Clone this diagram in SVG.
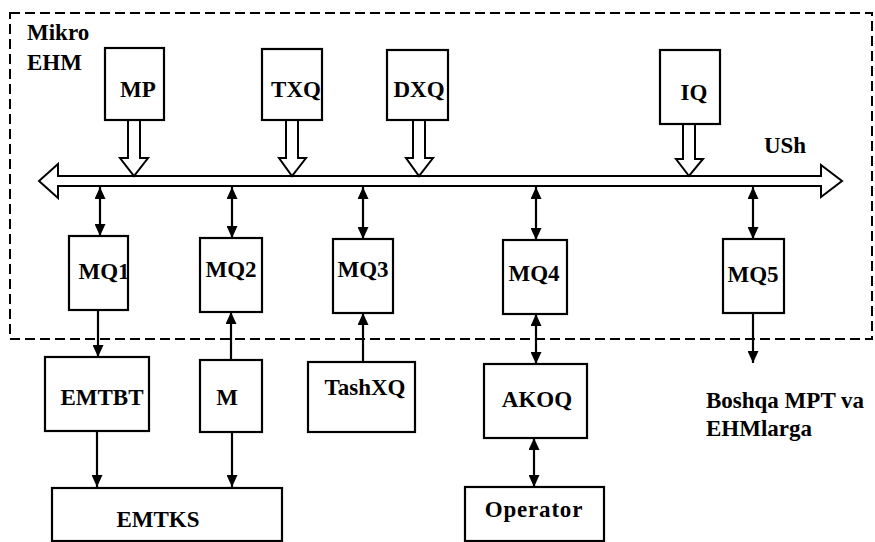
<svg xmlns="http://www.w3.org/2000/svg" width="875" height="542" viewBox="0 0 875 542">
<style>
  .bg { fill: #ffffff; }
  .box { fill: #ffffff; stroke: #000000; stroke-width: 2.2; }
  .frame { fill: none; stroke: #000000; stroke-width: 2; stroke-dasharray: 10 5; }
  .lbl { font-family: 'Liberation Serif', 'DejaVu Serif', serif; font-weight: bold; font-size: 23px; fill: #000000; }
  .c { text-anchor: middle; }
  .wire { stroke: #000000; stroke-width: 2.2; fill: none; }
  .hollow { fill: #ffffff; stroke: #000000; stroke-width: 2; stroke-linejoin: miter; }
</style>
<defs>
  <marker id="ah" viewBox="0 0 12 11" refX="12" refY="5.5" markerWidth="12" markerHeight="11" markerUnits="userSpaceOnUse" orient="auto-start-reverse">
    <path d="M0,0 L12,5.5 L0,11 z" fill="#000000"/>
  </marker>
</defs>
<rect class="bg" x="0" y="0" width="875" height="542"/>

<g font-family="Liberation Serif, DejaVu Serif, serif">
<g id="mikro-ehm">
  <rect class="frame" x="10" y="13" width="862" height="326"/>
  <text class="lbl" x="27" y="40">Mikro</text>
  <text class="lbl" x="27" y="70">EHM</text>
</g>

<g id="USh">
  <polygon class="hollow" points="39,181 58,164 58,176 821,176 821,165 842,181 821,197 821,186 58,186 58,198"/>
  <text class="lbl c" x="785" y="153">USh</text>
</g>

<g id="connectors">
  <polygon class="hollow" points="128,120 128,158 120,158 134,176 148,158 140,158 140,120"/>
  <polygon class="hollow" points="286,120 286,158 279,158 292,176 306,158 298,158 298,120"/>
  <polygon class="hollow" points="413,120 413,158 406,158 419,176 433,158 425,158 425,120"/>
  <polygon class="hollow" points="683,124 683,159 676,159 689,176 703,159 695,159 695,124"/>
  <line class="wire" x1="100" y1="187" x2="100" y2="236" marker-start="url(#ah)" marker-end="url(#ah)"/>
  <line class="wire" x1="232" y1="187" x2="232" y2="238" marker-start="url(#ah)" marker-end="url(#ah)"/>
  <line class="wire" x1="363" y1="187" x2="363" y2="239" marker-start="url(#ah)" marker-end="url(#ah)"/>
  <line class="wire" x1="536" y1="187" x2="536" y2="240" marker-start="url(#ah)" marker-end="url(#ah)"/>
  <line class="wire" x1="753" y1="187" x2="753" y2="239" marker-start="url(#ah)" marker-end="url(#ah)"/>
  <line class="wire" x1="98" y1="310" x2="98" y2="357" marker-end="url(#ah)"/>
  <line class="wire" x1="231" y1="360" x2="231" y2="312" marker-end="url(#ah)"/>
  <line class="wire" x1="363" y1="362" x2="363" y2="313" marker-end="url(#ah)"/>
  <line class="wire" x1="536" y1="314" x2="536" y2="364" marker-start="url(#ah)" marker-end="url(#ah)"/>
  <line class="wire" x1="753" y1="313" x2="753" y2="363" marker-end="url(#ah)"/>
  <line class="wire" x1="97" y1="431" x2="97" y2="487" marker-end="url(#ah)"/>
  <line class="wire" x1="232" y1="432" x2="232" y2="487" marker-end="url(#ah)"/>
  <line class="wire" x1="534" y1="438" x2="534" y2="487" marker-start="url(#ah)" marker-end="url(#ah)"/>
</g>

<g id="MP"><rect class="box" x="105" y="48" width="59" height="72"/><text class="lbl c" x="138" y="97">MP</text></g>
<g id="TXQ"><rect class="box" x="262" y="49" width="60" height="71"/><text class="lbl c" x="296" y="97">TXQ</text></g>
<g id="DXQ"><rect class="box" x="387" y="50" width="61" height="70"/><text class="lbl c" x="419" y="97">DXQ</text></g>
<g id="IQ"><rect class="box" x="660" y="50" width="60" height="74"/><text class="lbl c" x="694" y="100">IQ</text></g>

<g id="MQ1"><rect class="box" x="69" y="236" width="59" height="74"/><text class="lbl c" x="104" y="279">MQ1</text></g>
<g id="MQ2"><rect class="box" x="200" y="238" width="62" height="74"/><text class="lbl c" x="231" y="277">MQ2</text></g>
<g id="MQ3"><rect class="box" x="333" y="239" width="60" height="74"/><text class="lbl c" x="363" y="277">MQ3</text></g>
<g id="MQ4"><rect class="box" x="503" y="240" width="64" height="74"/><text class="lbl c" x="534" y="281">MQ4</text></g>
<g id="MQ5"><rect class="box" x="723" y="239" width="61" height="74"/><text class="lbl c" x="753" y="282">MQ5</text></g>

<g id="EMTBT"><rect class="box" x="45" y="357" width="104" height="74"/><text class="lbl c" x="102" y="405">EMTBT</text></g>
<g id="M"><rect class="box" x="200" y="360" width="62" height="72"/><text class="lbl c" x="227" y="405">M</text></g>
<g id="TashXQ"><rect class="box" x="308" y="362" width="107" height="70"/><text class="lbl c" x="365" y="395">TashXQ</text></g>
<g id="AKOQ"><rect class="box" x="484" y="364" width="103" height="74"/><text class="lbl c" x="537" y="407">AKOQ</text></g>

<g id="EMTKS"><rect class="box" x="52" y="488" width="230" height="53"/><text class="lbl c" x="158" y="527">EMTKS</text></g>
<g id="Operator"><rect class="box" x="465" y="487" width="139" height="54"/><text class="lbl c" x="534" y="517" letter-spacing="0.8" font-size="24">Operator</text></g>

<g id="boshqa">
  <text class="lbl" x="706" y="408">Boshqa MPT va</text>
  <text class="lbl" x="706" y="436">EHMlarga</text>
</g>
</g>
</svg>
